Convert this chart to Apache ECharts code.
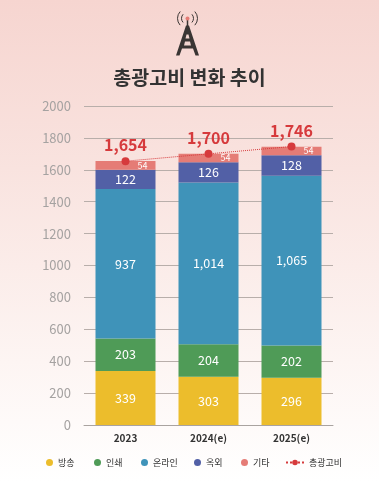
<!DOCTYPE html>
<html>
<head>
<meta charset="utf-8">
<style>
  html, body { margin: 0; padding: 0; }
  #chart { width: 379px; height: 482px; background: linear-gradient(180deg, #f6d5d0 0%, #f9e3df 35%, #fdf5f3 75%, #ffffff 100%); }
</style>
<script src="https://cdn.jsdelivr.net/npm/echarts@6/dist/echarts.min.js"></script>
</head>
<body>
<div id="chart"></div>
<script>
  var categories = ['2023', '2024(e)', '2025(e)']
  var broadcast = [339, 303, 296]
  var print = [203, 204, 202]
  var online = [937, 1014, 1065]
  var outdoor = [122, 126, 128]
  var etc = [54, 54, 54]
  var total = [1654, 1700, 1746]
  var yTicks = { min: 0, max: 2000, interval: 200 }

  var font = '"Noto Sans CJK KR", "Noto Sans", sans-serif'
  var charts = echarts.init(document.getElementById('chart'), null, { renderer: 'canvas' })

  function barSeries(name, values, color, label) {
    return {
      name: name,
      type: 'bar',
      stack: 'total',
      barWidth: 60,
      data: values,
      itemStyle: { color: color },
      label: Object.assign({
        show: true,
        position: 'inside',
        color: '#fff',
        fontFamily: font,
        fontSize: 12.5,
        formatter: function (p) { return p.value.toLocaleString('en-US') }
      }, label || {})
    }
  }

  function legendAt(x, name, iconW) {
    return {
      left: x,
      top: 458,
      data: [iconW ? { name: name } : { name: name, icon: 'circle' }],
      itemWidth: iconW || 7,
      itemHeight: 7,
      itemGap: 0,
      padding: 0,
      textStyle: { color: '#333', fontFamily: font, fontSize: 9, padding: [0, 0, 0, 0] }
    }
  }

  var option = {
    animation: false,
    title: {
      text: '총광고비 변화 추이',
      left: 'center',
      top: 63,
      textStyle: { color: '#333', fontFamily: font, fontSize: 19.5, fontWeight: 'bold' }
    },
    legend: [
      legendAt(46, '방송'),
      legendAt(94, '인쇄'),
      legendAt(141, '온라인'),
      legendAt(194, '옥외'),
      legendAt(241, '기타'),
      legendAt(285, '총광고비', 18)
    ],
    grid: { left: 84, right: 46, top: 106, bottom: 57 },
    xAxis: {
      type: 'category',
      data: categories,
      axisTick: { show: false },
      axisLine: { lineStyle: { color: '#a9a3a0' } },
      axisLabel: { color: '#333', fontFamily: font, fontSize: 10, fontWeight: 'bold', margin: 8 }
    },
    yAxis: {
      type: 'value',
      min: yTicks.min,
      max: yTicks.max,
      interval: yTicks.interval,
      axisLine: { show: false },
      axisTick: { show: false },
      splitLine: { lineStyle: { color: '#b8aeaa' } },
      axisLabel: {
        color: '#a5a2a1',
        fontFamily: font,
        fontSize: 13,
        margin: 13,
        formatter: function (v) { return String(v) }
      }
    },
    series: [
      barSeries('방송', broadcast, '#ecbd2c'),
      barSeries('인쇄', print, '#4f9b57'),
      barSeries('온라인', online, '#3f93b9'),
      barSeries('옥외', outdoor, '#5260a6'),
      barSeries('기타', etc, '#e57c76', { fontSize: 9, offset: [17, 0] }),
      {
        name: '총광고비',
        type: 'line',
        data: total,
        symbol: 'circle',
        symbolSize: 8,
        itemStyle: { color: '#d63a3c' },
        lineStyle: { color: '#d63a3c', width: 1, type: 'dotted' },
        label: {
          show: true,
          position: 'top',
          distance: 4,
          color: '#d63a3c',
          fontFamily: font,
          fontSize: 16,
          fontWeight: 'bold',
          formatter: function (p) { return p.value.toLocaleString('en-US') }
        },
        z: 5
      }
    ],
    graphic: [
      // 상단 안테나 아이콘
      {
        type: 'group',
        left: 175,
        top: 9,
        children: [
          { type: 'polygon', shape: { points: [[2, 43], [12, 13], [15, 13], [25, 43], [21.5, 43], [19, 36], [8, 36], [5.5, 43]] }, style: { fill: '#3a3533' } },
          { type: 'polygon', shape: { points: [[12.5, 22], [14.5, 22], [15.5, 26], [11.5, 26]] }, style: { fill: '#f2d5d0' } },
          { type: 'polygon', shape: { points: [[11, 29], [16, 29], [17, 33], [10, 33]] }, style: { fill: '#f2d5d0' } },
          { type: 'line', shape: { x1: 13.5, y1: 6, x2: 13.5, y2: 15 }, style: { stroke: '#3a3533', lineWidth: 1.5 } },
          { type: 'circle', shape: { cx: 13.5, cy: 6, r: 2 }, style: { fill: '#e57c76' } },
          { type: 'arc', shape: { cx: 13.5, cy: 6, r: 6, startAngle: 2.4, endAngle: 3.9 }, style: { stroke: '#3a3533', fill: null, lineWidth: 1 } },
          { type: 'arc', shape: { cx: 13.5, cy: 6, r: 10, startAngle: 2.4, endAngle: 3.9 }, style: { stroke: '#3a3533', fill: null, lineWidth: 1 } },
          { type: 'arc', shape: { cx: 13.5, cy: 6, r: 6, startAngle: -0.75, endAngle: 0.75 }, style: { stroke: '#3a3533', fill: null, lineWidth: 1 } },
          { type: 'arc', shape: { cx: 13.5, cy: 6, r: 10, startAngle: -0.75, endAngle: 0.75 }, style: { stroke: '#3a3533', fill: null, lineWidth: 1 } }
        ]
      }
    ]
  }
  charts.setOption(option)
</script>
</body>
</html>
